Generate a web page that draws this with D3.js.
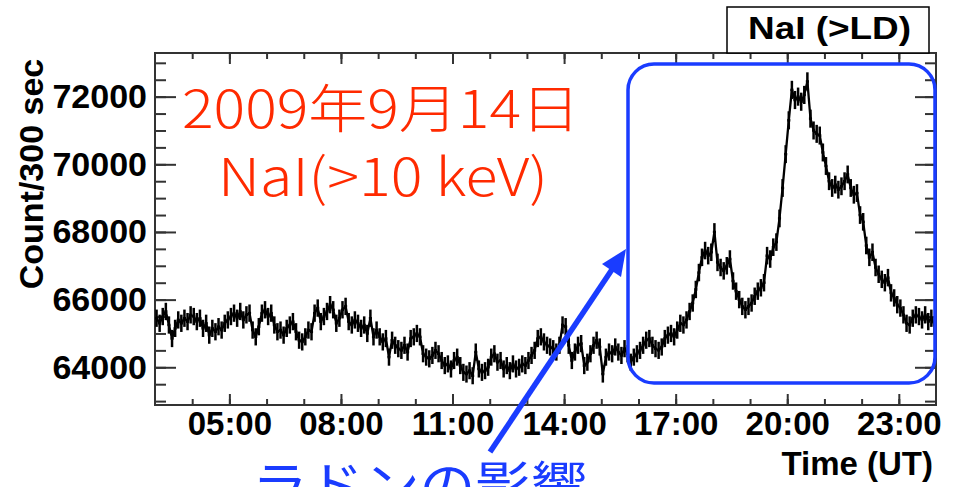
<!DOCTYPE html>
<html lang="ja">
  <head>
    <meta charset="UTF-8" />
    <title>NaI (&gt;LD)</title>
    <script src="https://cdn.jsdelivr.net/npm/d3@7"></script>
    <style>
      body { margin: 0; background: #fff; }
      svg { display: block; }
      .bold { font-family: "Liberation Sans", Arial, sans-serif; font-weight: bold; fill: #000; }
      .tick line { stroke: #333; stroke-width: 2; }
    </style>
  </head>
  <body>
    <svg width="965" height="487"></svg>
    <script>
      // 5 minute bins (300 s) from 03:00 to 24:00 UT
      const startHour = 3;
      const endHour = 24;
      const binHours = 5 / 60;
      const counts = [
        65450, 65300, 65500, 65650, 65250, 64850, 65150, 65400, 65300, 65450, 65350, 65550, // 03h
        65500, 65350, 65450, 65150, 65300, 64950, 65150, 65050, 65200, 65100, 65300, 65400, // 04h
        65500, 65600, 65450, 65650, 65400, 65550, 65600, 65100, 64900, 65200, 65600, 65700, // 05h
        65500, 65600, 65250, 65050, 65100, 64950, 65150, 65250, 65350, 65050, 64800, 64750, // 06h
        64900, 65100, 65050, 65600, 65750, 65350, 65500, 65650, 65850, 65700, 65300, 65450, // 07h
        65700, 65800, 65350, 65250, 65400, 65300, 65150, 65250, 65000, 65450, 64900, 65100, // 08h
        64900, 64750, 64850, 64300, 64800, 64650, 64550, 64500, 64650, 64450, 64850, 64900, // 09h
        65000, 64900, 64400, 64300, 64250, 64350, 64500, 64400, 64200, 64050, 64100, 63950, // 10h
        64200, 64300, 64050, 63850, 63800, 63900, 63750, 64450, 63950, 63850, 63900, 64000, // 11h
        64300, 64400, 64150, 64200, 63950, 64050, 63900, 64100, 63950, 64000, 64100, 64050, // 12h
        64200, 64350, 64500, 64850, 64900, 64750, 64650, 64600, 64550, 64450, 64650, 65250, // 13h
        65200, 64650, 64200, 64450, 64650, 64700, 64050, 64150, 64400, 64650, 64800, 64600, // 14h
        63800, 64300, 64450, 64400, 64600, 64450, 64350, 64550, 64400, 64150, 64300, 64400, // 15h
        64500, 64650, 64800, 64850, 64650, 64550, 64500, 64600, 64850, 64950, 65000, 64900, // 16h
        65100, 65300, 65250, 65400, 65650, 65900, 66300, 66800, 67250, 67450, 67300, 67400, // 17h
        68000, 67100, 66950, 66850, 67000, 67200, 66550, 66250, 66000, 65800, 65700, 65800, // 18h
        65900, 66100, 66250, 66350, 66500, 67300, 67200, 67550, 67700, 68400, 69300, 70300, // 19h
        71300, 72200, 71900, 72000, 71850, 72050, 72450, 71350, 71000, 70900, 70850, 70350, // 20h
        69950, 69500, 69300, 69400, 69250, 69350, 69500, 69700, 69300, 69100, 69150, 68500, // 21h
        68300, 67600, 67250, 67400, 66950, 66750, 66600, 66500, 66650, 66200, 66050, 65850, // 22h
        65750, 65550, 65300, 65250, 65450, 65550, 65500, 65400, 65550, 65350, 65450, 65250  // 23h
      ];
      const xMajor = [5, 8, 11, 14, 17, 20, 23];
      const xMinor = d3.range(4, 24);
      const yMajor = [64000, 66000, 68000, 70000, 72000];
      const yMinor = d3.range(63000, 73001, 500);

      const frame = { left: 155, right: 936, top: 53, bottom: 405 };
      const svg = d3.select("svg");

      const x = d3.scaleLinear().domain([startHour, endHour]).range([frame.left, frame.right]);
      const y = d3.scaleLinear().domain([62885, 73290]).range([frame.bottom, frame.top]);
      const fmt = (h) => String(h).padStart(2, "0") + ":00";

      // frame ticks (ROOT style: inside, on all four sides)
      function axisGroup(axis, tx, ty, labelSize) {
        const g = svg.append("g").attr("transform", `translate(${tx},${ty})`).call(axis);
        g.select(".domain").remove();
        if (labelSize) g.selectAll("text").attr("class", "bold").style("font-size", labelSize);
        return g;
      }
      axisGroup(d3.axisBottom(x).tickValues(xMinor).tickSize(-6).tickFormat(""), 0, frame.bottom);
      axisGroup(d3.axisBottom(x).tickValues(xMajor).tickSize(-11).tickPadding(7).tickFormat(fmt), 0, frame.bottom, "33px");
      axisGroup(d3.axisTop(x).tickValues(xMinor).tickSize(-6).tickFormat(""), 0, frame.top);
      axisGroup(d3.axisTop(x).tickValues(xMajor).tickSize(-11).tickFormat(""), 0, frame.top);
      axisGroup(d3.axisLeft(y).tickValues(yMinor).tickSize(-11).tickFormat(""), frame.left, 0);
      axisGroup(d3.axisLeft(y).tickValues(yMajor).tickSize(-21).tickPadding(8).tickFormat(d3.format("d")), frame.left, 0, "34px");
      axisGroup(d3.axisRight(y).tickValues(yMinor).tickSize(-11).tickFormat(""), frame.right, 0);
      axisGroup(d3.axisRight(y).tickValues(yMajor).tickSize(-21).tickFormat(""), frame.right, 0);

      svg.append("rect")
        .attr("x", frame.left).attr("y", frame.top)
        .attr("width", frame.right - frame.left).attr("height", frame.bottom - frame.top)
        .attr("fill", "none").attr("stroke", "#333").attr("stroke-width", 2);

      // histogram: connecting line plus error bars
      const bins = counts.map((c, i) => ({ t0: startHour + i * binHours, c: c }));
      const mid = (d) => x(d.t0 + binHours / 2);
      svg.append("path").datum(bins)
        .attr("fill", "none").attr("stroke", "#000").attr("stroke-width", 2.3)
        .attr("d", d3.line().x(mid).y((d) => y(d.c)));
      const hist = svg.append("g").attr("stroke", "#000").attr("stroke-width", 2.5);
      hist.selectAll("line.h").data(bins).join("line")
        .attr("class", "h")
        .attr("x1", (d) => x(d.t0)).attr("x2", (d) => x(d.t0 + binHours))
        .attr("y1", (d) => y(d.c)).attr("y2", (d) => y(d.c));
      hist.selectAll("line.e").data(bins).join("line")
        .attr("class", "e")
        .attr("x1", mid).attr("x2", mid)
        .attr("y1", (d) => y(d.c - Math.sqrt(d.c))).attr("y2", (d) => y(d.c + Math.sqrt(d.c)));

      // axis titles
      svg.append("text").attr("class", "bold")
        .attr("transform", "translate(43,174) rotate(-90)")
        .attr("text-anchor", "middle").style("font-size", "34px")
        .text("Count/300 sec");
      svg.append("text").attr("class", "bold")
        .attr("x", 933).attr("y", 475).attr("text-anchor", "end").style("font-size", "33px")
        .text("Time (UT)");

      // title box
      svg.append("rect").attr("x", 727).attr("y", 7).attr("width", 202).attr("height", 46)
        .attr("fill", "#fff").attr("stroke", "#000").attr("stroke-width", 1.5);
      svg.append("text").attr("class", "bold")
        .attr("x", 748).attr("y", 39).style("font-size", "32px")
        .attr("textLength", 163).attr("lengthAdjust", "spacingAndGlyphs")
        .text("NaI (>LD)");

      // annotations
      const red = "#ff2a00", blue = "#1a3cff";
      const cjk = '"Noto Sans CJK JP", "Noto Sans", sans-serif';
      svg.append("text").attr("x", 182).attr("y", 128)
        .attr("fill", red).style("font-family", cjk).style("font-size", "52px").style("font-weight", 300)
        .attr("textLength", 398).attr("lengthAdjust", "spacingAndGlyphs")
        .text("2009年9月14日");
      svg.append("text").attr("x", 218).attr("y", 196)
        .attr("fill", red).style("font-family", cjk).style("font-size", "52px").style("font-weight", 300)
        .attr("textLength", 330).attr("lengthAdjust", "spacingAndGlyphs")
        .text("NaI(>10 keV)");

      svg.append("rect").attr("x", 628).attr("y", 64).attr("width", 307).attr("height", 319)
        .attr("rx", 26).attr("fill", "none").attr("stroke", blue).attr("stroke-width", 3.5);

      svg.append("line").attr("x1", 490).attr("y1", 452).attr("x2", 613).attr("y2", 268)
        .attr("stroke", blue).attr("stroke-width", 5.5);
      svg.append("polygon").attr("points", "626,249 621,277 602,264").attr("fill", blue);

      svg.append("text").attr("x", 252).attr("y", 505)
        .attr("fill", blue).style("font-family", cjk).style("font-size", "52px")
        .attr("textLength", 335).attr("lengthAdjust", "spacingAndGlyphs")
        .text("ラドンの影響");
    </script>
  </body>
</html>
